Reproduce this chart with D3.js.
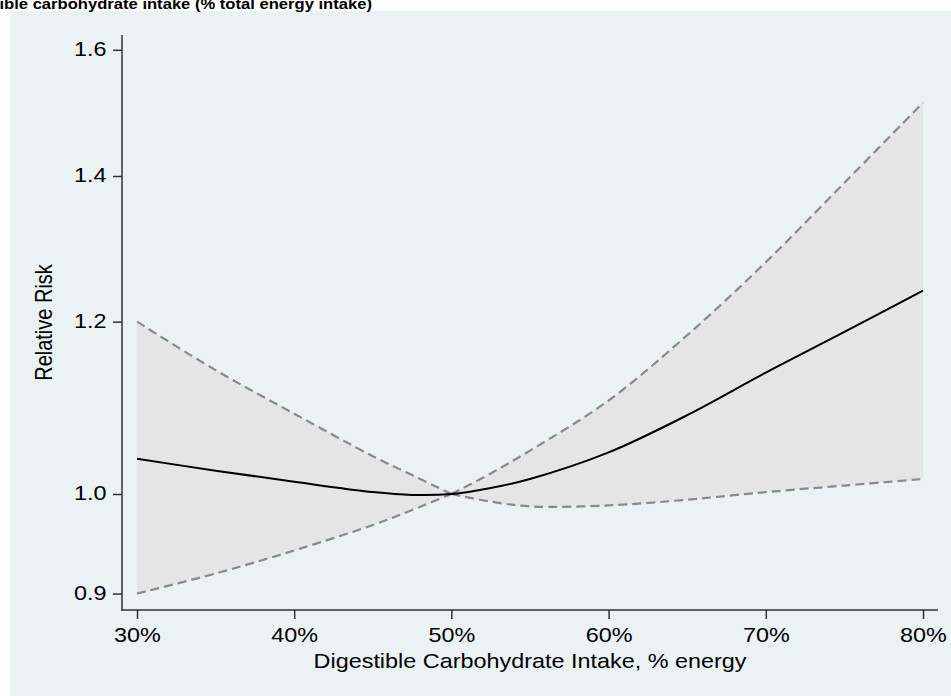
<!DOCTYPE html>
<html>
<head>
<meta charset="utf-8">
<script src="https://cdn.jsdelivr.net/npm/d3@7"></script>
<style>
  html, body { margin: 0; padding: 0; background: #ffffff; }
  svg { display: block; font-family: "Liberation Sans", Arial, sans-serif; }
</style>
</head>
<body>
<svg id="chart" width="951" height="696"></svg>
<script>
// Carbohydrate intake (% energy) and relative risk with 95% CI (reference: 50%)
const carbPct  = [30, 35, 40, 45, 47.5, 50, 52.5, 55, 60, 65, 70, 75, 80];
const rr       = [1.038, 1.025, 1.013, 1.002, 0.999, 1.0, 1.0064, 1.016, 1.045, 1.087, 1.137, 1.187, 1.240];
const rrUpper  = [1.200, 1.140, 1.0887, 1.0408, 1.0202, 1.0, 1.022, 1.047, 1.104, 1.183, 1.278, 1.390, 1.513];
const rrLower  = [0.900, 0.9193, 0.942, 0.9677, 0.9832, 1.0, 0.992, 0.987, 0.988, 0.994, 1.002, 1.009, 1.016];
const refPct   = 50;
const xTicks   = [30, 40, 50, 60, 70, 80];
const yTicks   = [0.9, 1.0, 1.2, 1.4, 1.6];

const title  = "Digestible carbohydrate intake (% total energy intake)";
const xTitle = "Digestible Carbohydrate Intake, % energy";
const yTitle = "Relative Risk";

const W = 951, H = 696;
const stretch = 1.17;   // text is drawn slightly widened
const svg = d3.select("#chart");

// plot panel background
svg.append("rect").attr("x", 10).attr("y", 11).attr("width", W - 10).attr("height", H - 11)
  .attr("fill", "#eaf2f3");

// chart title (its left part runs past the canvas edge)
svg.append("text")
  .attr("transform", `translate(372,9) scale(1.072,1)`)
  .attr("text-anchor", "end").attr("font-size", 15.5).attr("font-weight", "bold")
  .attr("fill", "#000").text(title);

const x = d3.scaleLinear().domain([30, 80]).range([137, 923]);
const y = d3.scaleLog().domain([1.0, 1.6]).range([494, 49.8]);

const data = carbPct.map((p, i) => ({ p, rr: rr[i], hi: rrUpper[i], lo: rrLower[i] }));
// the CI pinches to 1 at the reference value, so each side is its own piece
const pieces = [data.filter(d => d.p <= refPct), data.filter(d => d.p >= refPct)];
const curve = d3.curveCatmullRom.alpha(0.5);

// confidence band
const band = d3.area().x(d => x(d.p)).y0(d => y(d.lo)).y1(d => y(d.hi)).curve(curve);
pieces.forEach(seg => {
  svg.append("path").datum(seg).attr("fill", "#e5e5e5").attr("d", band);
});

// CI bounds
const line = key => d3.line().x(d => x(d.p)).y(d => y(d[key])).curve(curve);
pieces.forEach(seg => {
  ["hi", "lo"].forEach(k => {
    svg.append("path").datum(seg)
      .attr("fill", "none").attr("stroke", "#8a8a8a").attr("stroke-width", 2.2)
      .attr("stroke-dasharray", "9,5").attr("d", line(k));
  });
});

// point estimate
svg.append("path").datum(data)
  .attr("fill", "none").attr("stroke", "#000").attr("stroke-width", 2)
  .attr("d", line("rr"));

// axes
const axisColor = "#333";
const yAxis = svg.append("g").attr("transform", "translate(122,0)")
  .call(d3.axisLeft(y).tickValues(yTicks).tickFormat(d3.format(".1f")).tickSize(9));
const xAxis = svg.append("g").attr("transform", "translate(0,610)")
  .call(d3.axisBottom(x).tickValues(xTicks).tickFormat(d => d + "%").tickSize(9));

[yAxis, xAxis].forEach(g => {
  g.select(".domain").remove();
  g.selectAll(".tick line").attr("stroke", axisColor).attr("stroke-width", 1.5);
  g.selectAll(".tick text").attr("font-size", 20).attr("fill", "#000")
    .attr("font-family", "'Liberation Sans', Arial, sans-serif")
    .attr("x", 0).attr("y", 0).attr("dy", null);
});
yAxis.selectAll(".tick text")
  .attr("transform", `translate(-15.5,5.5) scale(${stretch},1)`);
xAxis.selectAll(".tick text")
  .attr("transform", `translate(0,32) scale(${stretch},1)`);

// axis lines
svg.append("line").attr("x1", 122).attr("x2", 122).attr("y1", 35).attr("y2", 610.75)
  .attr("stroke", axisColor).attr("stroke-width", 1.5);
svg.append("line").attr("x1", 121.25).attr("x2", 938).attr("y1", 610).attr("y2", 610)
  .attr("stroke", axisColor).attr("stroke-width", 1.5);

// axis titles
svg.append("text")
  .attr("transform", `translate(530,668) scale(${stretch},1)`)
  .attr("text-anchor", "middle").attr("font-size", 20).attr("fill", "#000").text(xTitle);
svg.append("text")
  .attr("transform", `translate(52,322.5) scale(${stretch},1) rotate(-90)`)
  .attr("text-anchor", "middle").attr("font-size", 20).attr("fill", "#000").text(yTitle);
</script>
</body>
</html>
